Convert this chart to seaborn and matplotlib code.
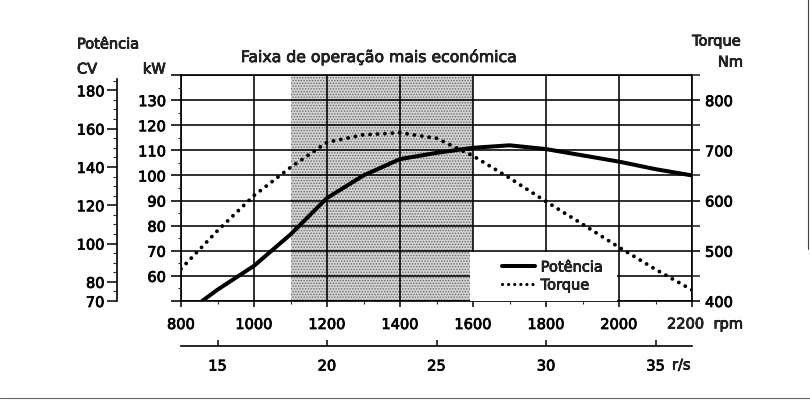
import matplotlib
matplotlib.use("Agg")
import matplotlib.pyplot as plt
import matplotlib.ticker as mticker
import matplotlib.patheffects as pe
from matplotlib.patches import Rectangle
from matplotlib.lines import Line2D
from matplotlib.text import Text
import seaborn as sns
import pandas as pd

sns.set_theme(style="white")
plt.rcParams["font.family"] = ["DejaVu Sans"]
plt.rcParams["hatch.linewidth"] = 0.7

# Engine power curve (rpm -> kW)
power_rpm = [858, 900, 1000, 1100, 1200, 1300, 1400, 1500, 1600, 1700, 1800, 1900, 2000, 2100, 2200]
power_kw = [50, 54.5, 64, 76.5, 91, 100, 106.5, 109, 111, 112, 110.5, 108, 105.5, 102.5, 100]

# Engine torque curve (rpm -> Nm)
torque_rpm = [800, 900, 1000, 1100, 1200, 1300, 1400, 1500, 1600, 1700, 1800, 1900, 2000, 2100, 2200]
torque_nm = [464, 540, 610, 666, 716, 731, 735, 724, 689, 645, 598, 553, 507, 463, 422]

# Most economical operating band (rpm)
band_start, band_end = 1100, 1600

rpm_ticks = [800, 1000, 1200, 1400, 1600, 1800, 2000, 2200]
rpm_labels = ["800", "1000", "1200", "1400", "1600", "1800", "2000", ""]
kw_ticks = [50, 60, 70, 80, 90, 100, 110, 120, 130, 140]
kw_labels = ["", "60", "70", "80", "90", "100", "110", "120", "130", ""]
nm_ticks = [400, 500, 600, 700, 800]
cv_ticks = [70, 80, 100, 120, 140, 160, 180]
rps_ticks = [15, 20, 25, 30, 35]

FS = 10.5
W, H = 810, 402

power_df = pd.DataFrame({"rpm": power_rpm, "kW": power_kw})
torque_df = pd.DataFrame({"rpm": torque_rpm, "Nm": torque_nm})

fig = plt.figure(figsize=(W / 100, H / 100), dpi=100)
ax = fig.add_axes([181 / W, 1 - 302 / H, (692 - 181) / W, (302 - 76) / H])

def px(x, y):
    return x / W, 1 - y / H

# shaded economy band
ax.axvspan(band_start, band_end, facecolor="#d4d4d4", edgecolor="#6a6a6a",
           hatch="......", linewidth=0, zorder=1)

# power (left kW axis)
sns.lineplot(data=power_df, x="rpm", y="kW", ax=ax, color="black",
             linewidth=2.9, zorder=3, legend=False)
ax.set_xlim(800, 2200)
ax.set_ylim(50, 140)
ax.set_axisbelow(False)
ax.set_xticks(rpm_ticks)
ax.set_xticklabels(rpm_labels)
ax.xaxis.set_minor_locator(mticker.MultipleLocator(100))
ax.set_yticks(kw_ticks)
ax.set_yticklabels(kw_labels)
ax.yaxis.set_minor_locator(mticker.MultipleLocator(5))
ax.grid(True, which="major", color="black", linewidth=1.15)
ax.set_xlabel("")
ax.set_ylabel("")
for s in ax.spines.values():
    s.set_color("black")
    s.set_linewidth(1.2)
ax.tick_params(axis="x", which="major", direction="out", length=4.5, width=1.1,
               pad=7, labelsize=FS, colors="black", bottom=True)
ax.tick_params(axis="x", which="minor", direction="out", length=2.2, width=0.8, bottom=True)
ax.tick_params(axis="y", which="major", direction="out", length=7.2, width=1.15,
               pad=3.6, labelsize=FS, colors="black", left=True)
ax.tick_params(axis="y", which="minor", direction="out", length=2.2, width=0.8, left=True)

# last rpm label sits a little left of its tick, followed by the unit
ax.annotate(f"{rpm_ticks[-1]}", xy=(rpm_ticks[-1], 0), xycoords=("data", "axes fraction"),
            xytext=(-4.5, -16.5), textcoords="offset points", ha="center", va="center",
            fontsize=FS)
ax.annotate("rpm", xy=(rpm_ticks[-1], 0), xycoords=("data", "axes fraction"),
            xytext=(15.5, -16.5), textcoords="offset points", ha="left", va="center",
            fontsize=FS)

# torque (right Nm axis)
ax2 = ax.twinx()
sns.lineplot(data=torque_df, x="rpm", y="Nm", ax=ax2, color="black",
             linewidth=2.8, zorder=3, legend=False)
tline = ax2.get_lines()[0]
tline.set_linestyle((0, (0.01, 1.9)))
tline.set_dash_capstyle("round")
ax2.set_ylim(400, 850)
ax2.set_yticks(nm_ticks)
ax2.yaxis.set_minor_locator(mticker.FixedLocator([450, 550, 650, 750, 850]))
ax2.set_ylabel("")
for s in ax2.spines.values():
    s.set_visible(False)
ax2.tick_params(axis="y", which="major", direction="out", length=5.8, width=1.15,
                pad=3.6, labelsize=FS, colors="black", right=True)
ax2.tick_params(axis="y", which="minor", direction="out", length=5.8, width=1.15, right=True)

# white panel behind the legend
ax2.add_patch(Rectangle((0.566, 0.0), 0.287, 0.217, transform=ax2.transAxes,
                        facecolor="white", edgecolor="none", zorder=2.8))
handles = [Line2D([], [], color="black", linewidth=2.9),
           Line2D([], [], color="black", linewidth=2.3,
                  linestyle=(0, (0.01, 1.9)), dash_capstyle="round")]
leg = ax2.legend(handles, ["Potência", "Torque"], loc="lower left",
                 bbox_to_anchor=(0.616, 0.012), frameon=False, fontsize=FS,
                 handlelength=2.27, handletextpad=0.41, labelspacing=0.2,
                 borderaxespad=0)
leg.set_zorder(5)

# horsepower (CV) axis, offset to the left
ax3 = ax.twinx()
ax3.set_ylim(70, 188)
for k, s in ax3.spines.items():
    s.set_visible(k == "left")
ax3.spines["left"].set_position(("outward", 46))
ax3.spines["left"].set_bounds(70, 186)
ax3.spines["left"].set_linewidth(1.2)
ax3.spines["left"].set_color("black")
ax3.yaxis.set_ticks_position("left")
ax3.set_yticks(cv_ticks)
ax3.yaxis.set_minor_locator(mticker.MultipleLocator(5))
ax3.tick_params(axis="y", which="major", direction="out", length=7.5, width=1.1,
                pad=1.5, labelsize=FS, colors="black")
ax3.tick_params(axis="y", which="minor", direction="out", length=2.8, width=0.8)

# revolutions per second axis below
sec = ax.secondary_xaxis(-0.199, functions=(lambda r: r / 60.0, lambda s: s * 60.0))
sec.set_xticks(rps_ticks)
sec.tick_params(axis="x", direction="in", length=4, width=1.1, pad=9,
                labelsize=FS, colors="black")
sec.spines["bottom"].set_linewidth(1.2)
sec.spines["bottom"].set_color("black")

# titles and unit labels
fig.text(*px(77, 45), "Potência", ha="left", va="center", fontsize=FS)
fig.text(*px(77, 70), "CV", ha="left", va="center", fontsize=FS)
fig.text(*px(166, 70), "kW", ha="right", va="center", fontsize=FS)
fig.text(*px(379, 58), "Faixa de operação mais económica", ha="center", va="center",
         fontsize=FS + 0.8)
fig.text(*px(741, 42), "Torque", ha="right", va="center", fontsize=FS)
fig.text(*px(743, 63), "Nm", ha="right", va="center", fontsize=FS)
fig.text(*px(672, 366), "r/s", ha="left", va="center", fontsize=FS)

# page frame lines
fig.add_artist(Line2D([808 / W, 808 / W], [1.0, 1 - 250 / H], color="#444444", linewidth=0.8))
fig.add_artist(Line2D([0, 1], [1 - 399 / H, 1 - 399 / H], color="#666666", linewidth=0.8))

# slightly heavier type
for t in fig.findobj(Text):
    t.set_path_effects([pe.withStroke(linewidth=0.55, foreground="black")])

fig.savefig("out.png", dpi=100)
